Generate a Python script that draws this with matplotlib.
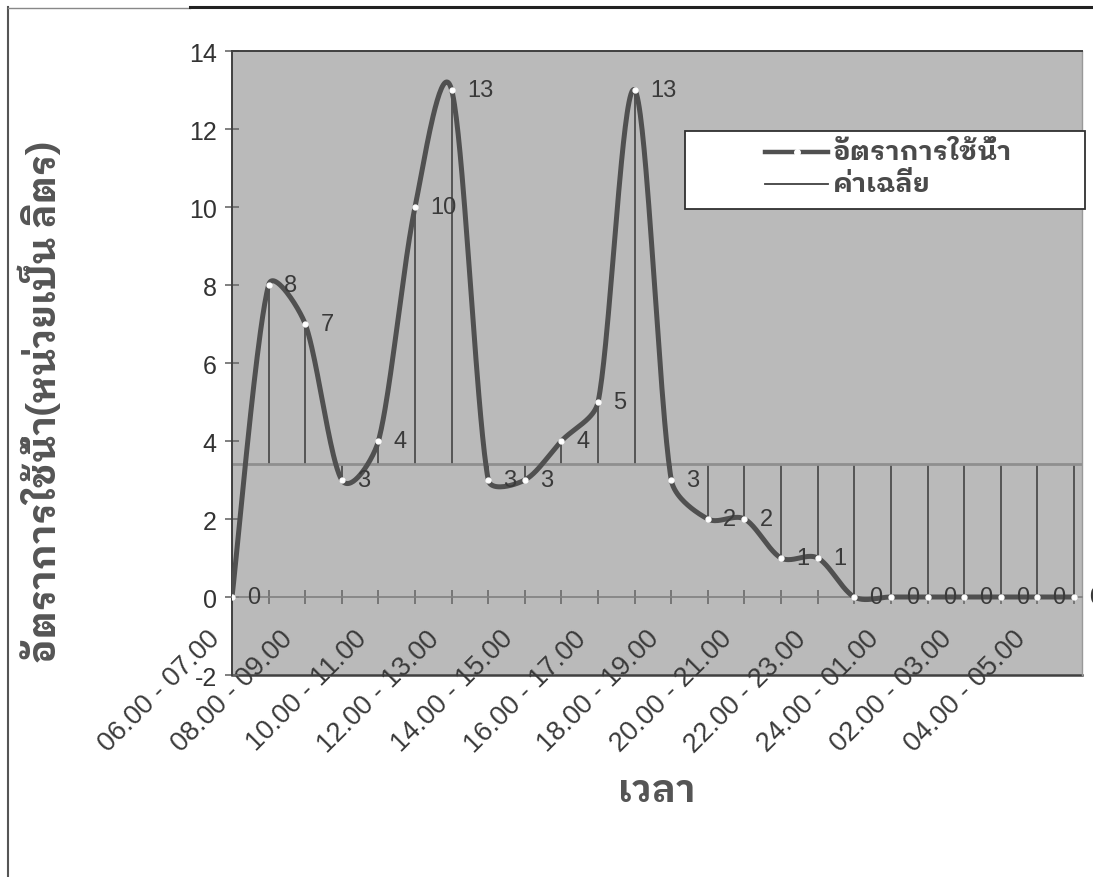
import matplotlib
matplotlib.use("Agg")
import matplotlib.pyplot as plt
from matplotlib.lines import Line2D
from matplotlib.patches import Rectangle
from matplotlib.transforms import ScaledTranslation
import numpy as np

# ---------------- data ----------------
categories = ["06.00 - 07.00", "07.00 - 08.00", "08.00 - 09.00", "09.00 - 10.00",
              "10.00 - 11.00", "11.00 - 12.00", "12.00 - 13.00", "13.00 - 14.00",
              "14.00 - 15.00", "15.00 - 16.00", "16.00 - 17.00", "17.00 - 18.00",
              "18.00 - 19.00", "19.00 - 20.00", "20.00 - 21.00", "21.00 - 22.00",
              "22.00 - 23.00", "23.00 - 24.00", "24.00 - 01.00", "01.00 - 02.00",
              "02.00 - 03.00", "03.00 - 04.00", "04.00 - 05.00", "05.00 - 06.00"]
usage = [0, 8, 7, 3, 4, 10, 13, 3, 3, 4, 5, 13, 3, 2, 2, 1, 1, 0, 0, 0, 0, 0, 0, 0]
average_value = 3.42
y_ticks = [-2, 0, 2, 4, 6, 8, 10, 12, 14]

series_label = "อัตราการใช้น้ำ"
avg_label = "ค่าเฉลี่ย"
x_title = "เวลา"
y_title = "อัตราการใช้น้ำ(หน่วยเป็น ลิตร)"

THAI = ["IBM Plex Sans Thai Looped", "Noto Sans Thai Looped", "Liberation Sans", "DejaVu Sans"]
NUM = ["Liberation Sans", "DejaVu Sans"]

W, H = 1093, 878
left, right, top, bottom = 232, 1082, 52, 676
XMAX = 23.22
YMIN, YMAX = -2, 14


def smooth(xs, ys, px_x, px_y, r=1 / 3, n=40):
    """Excel-like smoothed line: Catmull-Rom Bezier segments (screen space),
    with control handles limited to a fraction of the segment length."""
    Q = np.column_stack([np.asarray(xs, float) * px_x, np.asarray(ys, float) * px_y])
    m = len(Q)
    D = np.zeros_like(Q)
    for i in range(m):
        a = Q[i - 1] if i > 0 else Q[i]
        b = Q[i + 1] if i < m - 1 else Q[i]
        D[i] = (b - a) / 6.0
    out = []
    t = np.linspace(0, 1, n)[:, None]
    for i in range(m - 1):
        L = np.hypot(*(Q[i + 1] - Q[i]))
        d1, d2 = D[i].copy(), D[i + 1].copy()
        for d in (d1, d2):
            nd = np.hypot(*d)
            if nd > r * L and nd > 0:
                d *= r * L / nd
        c1 = Q[i] + d1
        c2 = Q[i + 1] - d2
        seg = ((1 - t) ** 3) * Q[i] + 3 * ((1 - t) ** 2) * t * c1 + 3 * (1 - t) * t ** 2 * c2 + t ** 3 * Q[i + 1]
        out.append(seg if i == 0 else seg[1:])
    seg = np.vstack(out)
    return seg[:, 0] / px_x, seg[:, 1] / px_y


fig = plt.figure(figsize=(W / 100, H / 100), dpi=100)
fig.patch.set_facecolor("white")

ax = fig.add_axes([left / W, 1 - bottom / H, (right - left) / W, (bottom - top) / H])
ax.set_facecolor("#bababa")

x = np.arange(len(usage))

# high-low lines between the two series
for xi, v in zip(x, usage):
    lo, hi = min(v, average_value), max(v, average_value)
    ax.vlines(xi, lo, hi, color="#4d4d4d", lw=1.3, zorder=2)

# average line
ax.axhline(average_value, color="#8f8f8f", lw=2.0, zorder=2)

# smoothed usage line
px_x = (right - left) / XMAX
px_y = (bottom - top) / (YMAX - YMIN)
sx, sy = smooth(x, usage, px_x, px_y)
ax.plot(sx, sy, color="#505050", lw=3.6, solid_capstyle="round", zorder=3)
ax.plot(x, usage, ls="none", marker="o", ms=3.5, mfc="white", mec="white", zorder=4)

# data labels
for xi, v in zip(x, usage):
    ax.annotate(str(v), (xi, v), xytext=(11, 0), textcoords="offset points",
                ha="left", va="center", fontsize=17, color="#3a3a3a",
                family=NUM, zorder=5, annotation_clip=False)

ax.set_xlim(0, XMAX)
ax.set_ylim(YMIN, YMAX)
ax.set_yticks(y_ticks)
ax.set_yticklabels([str(t) for t in y_ticks], family=NUM, fontsize=18, color="#333333")

# x axis crosses at y = 0
ax.spines["bottom"].set_position(("data", 0))
ax.spines["bottom"].set_color("#808080")
ax.spines["bottom"].set_linewidth(1.2)
for s in ["left", "top"]:
    ax.spines[s].set_color("#404040")
    ax.spines[s].set_linewidth(1.4)
ax.spines["right"].set_color("#999999")
ax.spines["right"].set_linewidth(1.0)
# lower border of the plot area (at -2)
ax.plot([0, 1], [0, 0], transform=ax.transAxes, color="#404040", lw=1.8, clip_on=False, zorder=1)

ax.set_xticks(x)
ax.set_xticklabels([c if i % 2 == 0 else "" for i, c in enumerate(categories)],
                   rotation=45, ha="right", va="center", rotation_mode="anchor",
                   family=NUM, fontsize=19.5, color="#3a3a3a")
ax.tick_params(axis="x", direction="inout", length=10, width=1.2, color="#6a6a6a", pad=22)
ax.tick_params(axis="y", direction="inout", length=10, width=1.2, color="#6a6a6a", pad=6)
shift = ScaledTranslation(-16 / 100, 0, fig.dpi_scale_trans)
for lab in ax.get_xticklabels():
    lab.set_transform(lab.get_transform() + shift)

# axis titles
fig.text(657 / W, 1 - 792 / H, x_title, ha="center", va="center", fontsize=27,
         fontweight="bold", family=THAI, color="#555555")
fig.text(42 / W, 1 - 402 / H, y_title, ha="center", va="center", rotation=90,
         fontsize=27, fontweight="bold", family=THAI, color="#555555")

# legend (drawn as in the original: wide box, handles set in from the left)
fT = fig.transFigure
def fx(px):
    return px / W
def fy(py):
    return 1 - py / H

fig.add_artist(Rectangle((fx(685), fy(210)), fx(1085) - fx(685), fy(132) - fy(210),
                         transform=fT, facecolor="white", edgecolor="#303030", lw=1.3, zorder=10))
row_y = [153, 185]
fig.add_artist(Line2D([fx(765), fx(828)], [fy(row_y[0])] * 2, transform=fT,
                      color="#505050", lw=3.2, zorder=11))
fig.add_artist(Line2D([fx(796.5)], [fy(row_y[0])], transform=fT, ls="none", marker="o",
                      ms=4, mfc="white", mec="white", zorder=12))
fig.add_artist(Line2D([fx(765), fx(828)], [fy(row_y[1])] * 2, transform=fT,
                      color="#404040", lw=1.3, zorder=11))
for ry, lab in zip(row_y, [series_label, avg_label]):
    fig.text(fx(833), fy(ry), lab, ha="left", va="center", fontsize=19.5,
             fontweight="bold", family=THAI, color="#4a4a4a", zorder=12)

# chart-area border
fig.add_artist(Line2D([fx(8), fx(8)], [fy(8), 0], transform=fT, color="#555555", lw=1.5))
fig.add_artist(Line2D([fx(8), fx(190)], [fy(9), fy(9)], transform=fT, color="#888888", lw=1.0))
fig.add_artist(Line2D([fx(190), 1], [fy(8), fy(8)], transform=fT, color="#222222", lw=2.2))

fig.savefig("out.png", dpi=100)
